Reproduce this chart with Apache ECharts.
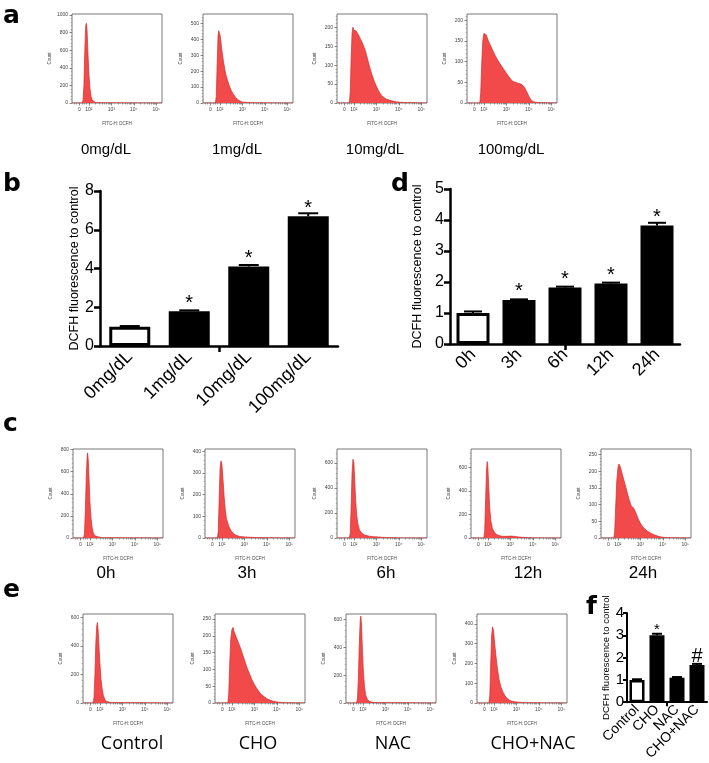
<!DOCTYPE html>
<html><head><meta charset="utf-8">
<script src="https://cdn.jsdelivr.net/npm/echarts@6/dist/echarts.min.js"></script>
<style>html,body{margin:0;padding:0;background:#fff}#c{width:709px;height:763px}</style>
</head><body><div id="c"></div>
<script>
// ---------- DATA ----------
// histogram x-axis (FITC-H: DCFH), in decade units
const histXTicks = [1.58, 2, 3, 4, 5];
const histXTickLabels = ['0', '10²', '10³', '10⁴', '10⁵'];

// Panel a: 0, 1, 10, 100 mg/dL
const histA_0 = [[1.25,0],[1.7,0],[1.74,30],[1.78,200],[1.82,600],[1.86,880],[1.89,905],[1.92,820],[1.96,560],[2.0,330],[2.05,160],[2.1,70],[2.15,30],[2.22,12],[2.3,5],[2.5,2],[5.25,0]];
const histA_1 = [[1.25,0],[1.8,0],[1.84,40],[1.88,250],[1.92,430],[1.95,455],[1.98,462],[2.02,420],[2.08,340],[2.15,270],[2.22,210],[2.3,160],[2.4,115],[2.5,80],[2.6,55],[2.7,35],[2.8,20],[2.9,12],[3.0,6],[3.2,3],[3.5,1],[5.25,0]];
const histA_10 = [[1.25,0],[1.8,0],[1.84,30],[1.88,120],[1.92,185],[1.96,200],[2.0,192],[2.05,195],[2.1,190],[2.2,180],[2.3,168],[2.4,155],[2.5,140],[2.6,118],[2.7,95],[2.8,75],[2.9,58],[3.0,44],[3.1,32],[3.2,22],[3.3,16],[3.45,10],[3.6,7],[3.8,4],[4.0,2],[4.3,1],[5.25,0]];
const histA_100 = [[1.25,0],[1.82,0],[1.86,25],[1.9,90],[1.95,150],[2.0,168],[2.05,172],[2.1,165],[2.2,150],[2.3,138],[2.4,126],[2.5,115],[2.6,105],[2.7,96],[2.8,88],[2.9,80],[3.0,72],[3.1,64],[3.2,57],[3.3,52],[3.4,50],[3.5,48],[3.6,47],[3.7,44],[3.8,38],[3.9,28],[4.0,16],[4.1,7],[4.2,3],[4.4,1],[5.25,0]];
const yTicksA = [[0,200,400,600,800,1000],[0,100,200,300,400,500],[0,50,100,150,200],[0,50,100,150,200]];
const yMaxA = [1010, 560, 235, 215];
const labelsA = ['0mg/dL', '1mg/dL', '10mg/dL', '100mg/dL'];

// Panel c: 0, 3, 6, 12, 24 h
const histC_0 = [[1.25,0],[1.72,0],[1.76,40],[1.8,250],[1.84,560],[1.88,740],[1.9,770],[1.93,700],[1.97,500],[2.0,330],[2.05,180],[2.1,90],[2.15,45],[2.22,20],[2.3,8],[2.5,3],[5.25,0]];
const histC_3 = [[1.25,0],[1.8,0],[1.84,30],[1.88,180],[1.92,320],[1.96,355],[2.0,340],[2.05,270],[2.1,190],[2.15,130],[2.2,90],[2.3,55],[2.4,35],[2.5,22],[2.6,14],[2.7,10],[2.8,7],[3.0,5],[3.3,3],[3.6,2],[4.0,1],[5.25,0]];
const histC_6 = [[1.25,0],[1.8,0],[1.84,40],[1.88,260],[1.92,520],[1.96,630],[2.0,600],[2.04,450],[2.08,300],[2.12,190],[2.18,110],[2.25,65],[2.35,38],[2.5,22],[2.7,14],[2.9,10],[3.1,8],[3.3,5],[3.6,3],[4.0,1],[5.25,0]];
const histC_12 = [[1.25,0],[1.82,0],[1.86,60],[1.9,330],[1.94,580],[1.97,650],[2.0,600],[2.04,420],[2.08,260],[2.13,150],[2.2,80],[2.3,45],[2.4,28],[2.55,18],[2.7,14],[2.85,14],[3.0,16],[3.15,14],[3.3,10],[3.5,6],[3.8,3],[4.2,1],[5.25,0]];
const histC_24 = [[1.25,0],[1.82,0],[1.86,20],[1.9,90],[1.95,170],[2.0,210],[2.05,222],[2.1,215],[2.2,190],[2.3,165],[2.4,140],[2.5,115],[2.6,95],[2.65,92],[2.7,90],[2.8,75],[2.9,58],[3.0,44],[3.1,34],[3.2,27],[3.3,21],[3.45,15],[3.6,10],[3.8,5],[4.0,2],[4.3,1],[5.25,0]];
const yTicksC = [[0,200,400,600,800],[0,100,200,300,400],[0,200,400,600],[0,200,400,600],[0,50,100,150,200,250]];
const yMaxC = [805, 410, 712, 757, 267];
const labelsC = ['0h', '3h', '6h', '12h', '24h'];

// Panel e: Control, CHO, NAC, CHO+NAC
const histE_ctrl = [[1.25,0],[1.7,0],[1.74,40],[1.78,200],[1.82,420],[1.86,540],[1.89,565],[1.92,520],[1.96,400],[2.0,280],[2.05,170],[2.1,100],[2.15,55],[2.22,25],[2.3,10],[2.5,3],[5.25,0]];
const histE_cho = [[1.25,0],[1.82,0],[1.86,25],[1.9,110],[1.95,190],[2.0,218],[2.05,225],[2.1,212],[2.2,195],[2.3,178],[2.4,160],[2.5,140],[2.6,120],[2.7,100],[2.8,84],[2.9,68],[3.0,55],[3.1,44],[3.2,34],[3.3,26],[3.45,18],[3.6,11],[3.8,6],[4.0,3],[4.3,1],[5.25,0]];
const histE_nac = [[1.25,0],[1.72,0],[1.76,30],[1.8,180],[1.84,420],[1.88,590],[1.91,625],[1.94,560],[1.98,380],[2.02,230],[2.07,120],[2.12,60],[2.2,25],[2.3,10],[2.5,3],[5.25,0]];
const histE_chonac = [[1.25,0],[1.78,0],[1.82,40],[1.86,200],[1.9,340],[1.94,385],[1.98,370],[2.02,320],[2.08,250],[2.15,180],[2.22,125],[2.3,85],[2.4,55],[2.5,35],[2.6,22],[2.7,14],[2.8,9],[3.0,5],[3.3,2],[3.7,1],[5.25,0]];
const yTicksE = [[0,200,400,600],[0,50,100,150,200,250],[0,200,400,600],[0,100,200,300,400]];
const yMaxE = [625, 265, 640, 450];
const labelsE = ['Control', 'CHO', 'NAC', 'CHO+NAC'];

// Panel b
const barB_cats = ['0mg/dL', '1mg/dL', '10mg/dL', '100mg/dL'];
const barB_vals = [1.0, 1.8, 4.1, 6.7];
const barB_errs = [0.03, 0.04, 0.08, 0.15];
const barB_marks = ['', '*', '*', '*'];
// Panel d
const barD_cats = ['0h', '3h', '6h', '12h', '24h'];
const barD_vals = [1.0, 1.42, 1.82, 1.95, 3.82];
const barD_errs = [0.05, 0.02, 0.03, 0.03, 0.09];
const barD_marks = ['', '*', '*', '*', '*'];
// Panel f
const barF_cats = ['Control', 'CHO', 'NAC', 'CHO+NAC'];
const barF_vals = [1.0, 3.0, 1.1, 1.67];
const barF_errs = [0.03, 0.07, 0.03, 0.05];
const barF_marks = ['', '*', '', '#'];

const yTitle = 'DCFH fluorescence to control';

// ---------- BUILD ----------
const ARIAL = "'Liberation Sans', Arial, sans-serif";
const grids = [], xAxes = [], yAxes = [], series = [], graphic = [];

const minorX = [];
[1.35, 1.45, 1.7, 1.8, 1.9].forEach(v => minorX.push(v));
for (let n = 2; n <= 4; n++) for (let k = 2; k <= 9; k++) minorX.push(n + Math.log10(k));

function addHist(data, yTicks, ymax, left, top) {
  const gi = grids.length;
  grids.push({left: left, top: top, width: 90, height: 89, show: true, borderColor: '#555', borderWidth: 0.8, backgroundColor: '#fff'});
  const xi = xAxes.length;
  xAxes.push({type: 'value', gridIndex: gi, min: 1.25, max: 5.25, position: 'bottom',
    axisLine: {show: false}, splitLine: {show: false},
    axisTick: {show: true, customValues: histXTicks, length: 2.5, lineStyle: {color: '#555', width: 0.7}},
    axisLabel: {show: true, customValues: histXTicks, fontSize: 5, color: '#444', margin: 4, fontFamily: ARIAL,
      formatter: v => { const i = histXTicks.findIndex(t => Math.abs(t - v) < 1e-6); return i >= 0 ? histXTickLabels[i] : ''; }},
    name: 'FITC-H: DCFH', nameLocation: 'middle', nameGap: 18, nameTextStyle: {fontSize: 4.5, color: '#444', fontFamily: ARIAL}});
  xAxes.push({type: 'value', gridIndex: gi, min: 1.25, max: 5.25, position: 'bottom',
    axisLine: {show: false}, splitLine: {show: false}, axisLabel: {show: false},
    axisTick: {show: true, customValues: minorX, length: 1.5, lineStyle: {color: '#666', width: 0.6}}});
  const yi = yAxes.length;
  const step = yTicks[1] - yTicks[0];
  const minorY = [];
  for (let v = step / 5; v < ymax; v += step / 5) minorY.push(v);
  yAxes.push({type: 'value', gridIndex: gi, min: 0, max: ymax, position: 'left',
    axisLine: {show: false}, splitLine: {show: false},
    axisTick: {show: true, customValues: yTicks, length: 2.5, lineStyle: {color: '#555', width: 0.7}},
    axisLabel: {show: true, customValues: yTicks, fontSize: 5, color: '#444', margin: 4, fontFamily: ARIAL,
      formatter: v => String(v)},
    name: 'Count', nameLocation: 'middle', nameGap: 20, nameRotate: 90, nameTextStyle: {fontSize: 4.5, color: '#444', fontFamily: ARIAL}});
  yAxes.push({type: 'value', gridIndex: gi, min: 0, max: ymax, position: 'left',
    axisLine: {show: false}, splitLine: {show: false}, axisLabel: {show: false},
    axisTick: {show: true, customValues: minorY, length: 1.3, lineStyle: {color: '#777', width: 0.5}}});
  series.push({type: 'line', xAxisIndex: xi, yAxisIndex: yi, data: data, showSymbol: false, silent: true,
    lineStyle: {color: '#d42a2a', width: 0.7}, areaStyle: {color: '#f24a4a', opacity: 1}, z: 3});
}

function addBar(cats, vals, errs, marks, ymax, interval, box, st) {
  const gi = grids.length;
  grids.push({left: box[0], top: box[1], width: box[2], height: box[3]});
  const xi = xAxes.length;
  xAxes.push({type: 'category', gridIndex: gi, data: cats, position: 'bottom',
    axisLine: {show: true, lineStyle: {color: '#000', width: st.axisW}},
    axisTick: {show: false},
    axisLabel: {interval: 0, rotate: 45, fontSize: st.catFont, color: '#000', margin: st.catMargin, fontFamily: ARIAL}});
  xAxes.push({type: 'value', gridIndex: gi, min: 0, max: 1, position: 'bottom',
    axisLine: {show: false}, splitLine: {show: false}, axisLabel: {show: false},
    axisTick: {show: true, customValues: [0.5], length: st.tickLen, lineStyle: {color: '#000', width: st.axisW}}});
  const yi = yAxes.length;
  yAxes.push({type: 'value', gridIndex: gi, min: 0, max: ymax, interval: interval,
    axisLine: {show: true, lineStyle: {color: '#000', width: st.axisW}},
    axisTick: {show: true, length: st.tickLen, lineStyle: {color: '#000', width: st.axisW}},
    splitLine: {show: false},
    axisLabel: {fontSize: st.tickFont, color: '#000', margin: st.tickMargin, fontFamily: ARIAL},
    name: yTitle, nameLocation: 'middle', nameGap: st.nameGap, nameRotate: 90,
    nameTextStyle: {fontSize: st.nameFont, color: '#000', fontFamily: ARIAL}});
  series.push({type: 'bar', xAxisIndex: xi, yAxisIndex: yi, barWidth: st.barW, z: 2,
    data: vals.map((v, i) => ({value: v,
      itemStyle: i === 0 ? {color: '#fff', borderColor: '#000', borderWidth: st.borderW} : {color: '#000'},
      label: {show: !!marks[i], position: 'top', distance: st.markDist + (marks[i] === '#' ? 1 : 0),
        formatter: marks[i], fontSize: marks[i] === '#' ? st.hashFont : st.starFont, color: '#000', fontFamily: ARIAL}}))});
  series.push({type: 'custom', xAxisIndex: xi, yAxisIndex: yi, z: 3, silent: true,
    data: vals.map((v, i) => [i, v, errs[i]]),
    encode: {x: 0, y: 1},
    renderItem: (params, api) => {
      const p0 = api.coord([api.value(0), api.value(1)]);
      const p1 = api.coord([api.value(0), api.value(1) + api.value(2)]);
      const hw = st.capW / 2;
      return {type: 'group', children: [
        {type: 'line', shape: {x1: p0[0], y1: p0[1], x2: p1[0], y2: p1[1]}, style: {stroke: '#000', lineWidth: 2}},
        {type: 'line', shape: {x1: p1[0] - hw, y1: p1[1], x2: p1[0] + hw, y2: p1[1]}, style: {stroke: '#000', lineWidth: 2}}]};
    }});
}

// Row a
const posA = [72, 203, 337, 467];
[histA_0, histA_1, histA_10, histA_100].forEach((d, i) => addHist(d, yTicksA[i], yMaxA[i], posA[i], 14));
// Row c
const posC = [73, 205, 337, 471, 601];
[histC_0, histC_3, histC_6, histC_12, histC_24].forEach((d, i) => addHist(d, yTicksC[i], yMaxC[i], posC[i], 449));
// Row e
const posE = [83, 215, 346, 477];
[histE_ctrl, histE_cho, histE_nac, histE_chonac].forEach((d, i) => addHist(d, yTicksE[i], yMaxE[i], posE[i], 614));

// Bars
const stBig = {axisW: 2.5, tickLen: 6, catFont: 18, catMargin: 8, tickFont: 16, tickMargin: 6, nameFont: 12.5,
  barW: 41, borderW: 3, starFont: 20, hashFont: 20, markDist: -2, capW: 20};
addBar(barB_cats, barB_vals, barB_errs, barB_marks, 8, 2, [100, 191, 238, 155], Object.assign({}, stBig, {nameGap: 19}));
addBar(barD_cats, barD_vals, barD_errs, barD_marks, 5, 1, [450, 189, 230, 155], Object.assign({}, stBig, {nameGap: 26, barW: 33, capW: 18}));
addBar(barF_cats, barF_vals, barF_errs, barF_marks, 4, 1, [627, 613, 80, 93],
  {axisW: 2, tickLen: 4, catFont: 14, catMargin: 5, tickFont: 15, tickMargin: 3, nameFont: 9.5, nameGap: 12,
   barW: 15, borderW: 2.5, starFont: 15, hashFont: 20, markDist: -2, capW: 10});

// Texts
function txt(s, x, y, font, align) {
  graphic.push({type: 'text', x: x, y: y, silent: true,
    style: {text: s, font: font, fill: '#000', textAlign: align || 'center', textVerticalAlign: 'middle'}});
}
const LET = "bold 25px 'DejaVu Sans', sans-serif";
txt('a', 3, 16, LET, 'left');
txt('b', 3, 184, LET, 'left');
txt('c', 3, 424, LET, 'left');
txt('d', 391, 184, LET, 'left');
txt('e', 3, 590, LET, 'left');
txt('f', 586, 607, LET, 'left');

const cxA = [106, 237, 375, 511];
labelsA.forEach((s, i) => txt(s, cxA[i], 150, "15px " + ARIAL));
const cxC = [106, 247, 386, 528, 643];
labelsC.forEach((s, i) => txt(s, cxC[i], 573, "17px " + ARIAL));
const cxE = [132, 258, 393, 533];
labelsE.forEach((s, i) => txt(s, cxE[i], 744, "18px 'Open Sans', sans-serif"));

const chart = echarts.init(document.getElementById('c'), null, {renderer: 'canvas'});
chart.setOption({animation: false, backgroundColor: '#fff', grid: grids, xAxis: xAxes, yAxis: yAxes, series: series, graphic: graphic});
</script></body></html>
